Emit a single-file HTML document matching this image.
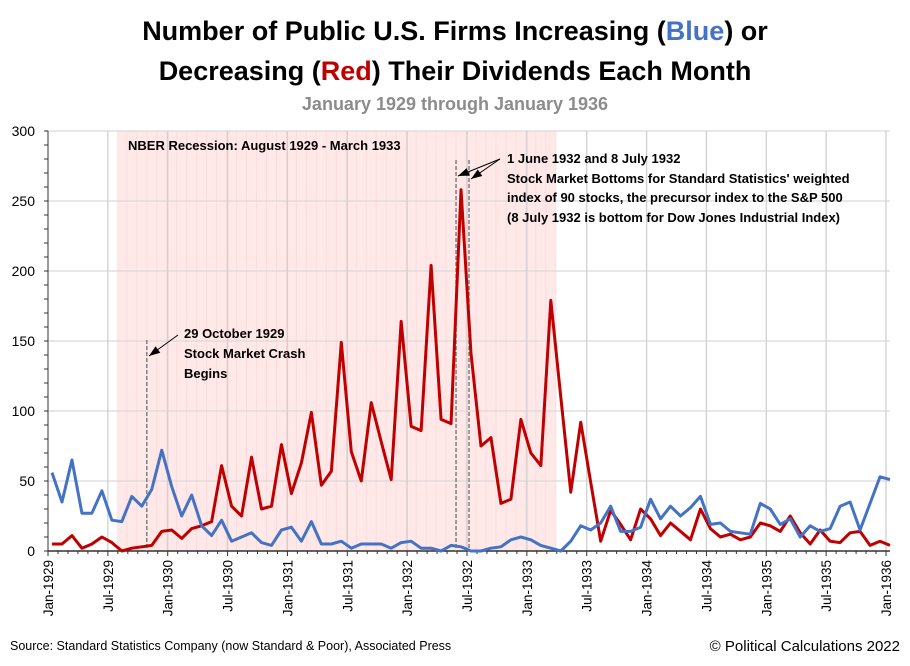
<!DOCTYPE html>
<html><head><meta charset="utf-8">
<style>
body{margin:0;background:#fff;font-family:"Liberation Sans",sans-serif;}
svg text{font-family:"Liberation Sans",sans-serif;}
</style></head>
<body>
<svg id="chart" width="910" height="661" viewBox="0 0 910 661" xmlns="http://www.w3.org/2000/svg">
<rect width="910" height="661" fill="#fff"/>
<text x="455" y="40" text-anchor="middle" font-size="27" font-weight="bold" fill="#000">Number of Public U.S. Firms Increasing (<tspan fill="#4472c4">Blue</tspan>) or</text>
<text x="455" y="80" text-anchor="middle" font-size="27" font-weight="bold" fill="#000">Decreasing (<tspan fill="#c00000">Red</tspan>) Their Dividends Each Month</text>
<text x="455" y="110" text-anchor="middle" font-size="18" font-weight="bold" fill="#8c8c8c">January 1929 through January 1936</text>
<g id="plot"></g>
<text x="10" y="650" font-size="12.5" fill="#000">Source: Standard Statistics Company (now Standard &amp; Poor), Associated Press</text>
<text x="900" y="651" text-anchor="end" font-size="15" fill="#000">© Political Calculations 2022</text>
</svg>
<script>
const months = ["Jan-1929","Jul-1929","Jan-1930","Jul-1930","Jan-1931","Jul-1931","Jan-1932","Jul-1932","Jan-1933","Jul-1933","Jan-1934","Jul-1934","Jan-1935","Jul-1935","Jan-1936"];
const yTicks = [0,50,100,150,200,250,300];
const increasing = [56,35,65,27,27,43,22,21,39,32,44,72,46,25,40,18,11,22,7,10,13,6,4,15,17,7,21,5,5,
 7,2,5,5,5,2,6,7,2,2,0,4,3,0,0,2,3,8,10,8,4,2,0,7,18,15,
 20,32,14,14,17,37,23,32,25,31,39,19,20,14,13,12,34,30,19,23,10,18,14,16,32,35,15,34,53,51];
const decreasing = [5,5,11,2,5,10,6,0,2,3,4,14,15,9,16,18,21,61,32,25,67,30,32,76,41,63,99,47,57,
 149,71,50,106,78,51,164,89,86,204,94,91,258,141,75,81,34,37,94,70,61,179,110,42,92,49,
 7,29,19,8,30,23,11,20,14,8,30,16,10,12,8,10,20,18,14,25,13,5,15,7,6,13,14,4,7,4];
const recession = [7, 51]; // month indices Aug-1929 .. Mar-1933 (end boundary)
const events = [9.5, 40.5, 41.8]; // 29 Oct 1929, 1 Jun 1932, 8 Jul 1932

const NS="http://www.w3.org/2000/svg";
const plot=document.getElementById('plot');
const X0=48, X1=886, Y0=551, Y1=131;
const step=(X1-X0)/84;
const xTick=i=>X0+i*step;
const xPt=i=>X0+4+i*step;
const y=v=>Y0-(v/300)*(Y0-Y1);
function mk(tag,attrs){const e=document.createElementNS(NS,tag);for(const k in attrs)e.setAttribute(k,attrs[k]);plot.appendChild(e);return e;}

// recession shading
let r=mk('rect',{x:xTick(recession[0])-1,y:Y1,width:xTick(recession[1])-xTick(recession[0]),height:Y0-Y1,fill:'#ffe8e8'});


for(let i=recession[0];i<recession[1];i++){
  let l=mk('line',{x1:xTick(i)+9,x2:xTick(i)+9,y1:Y1,y2:Y0,stroke:'#fcdcdc','stroke-width':1});
  
  
}
// grid
yTicks.forEach(v=>{
  let g=mk('line',{x1:X0-2,x2:X1+4,y1:y(v),y2:y(v),stroke:'#d9d9d9','stroke-width':1.3});
  
  
  let t=mk('text',{x:35,y:y(v)+5,'text-anchor':'end','font-size':14,fill:'#000'});
  t.textContent=v;
  
  
});
months.forEach((m,k)=>{
  const x=xTick(k*6);
  if(k>0){let g=mk('line',{x1:x,x2:x,y1:Y1,y2:Y0,stroke:'#d0d0d0','stroke-width':1.3});
  
  }
  let t=mk('text',{x:0,y:0,'text-anchor':'end','font-size':13.5,fill:'#000',transform:`translate(${x+5},560) rotate(-90)`});
  t.textContent=m;
  
  
});
// axes
let ax=mk('line',{x1:X0,x2:X0,y1:Y1,y2:Y0,stroke:'#333','stroke-width':1});


let bx=mk('line',{x1:X0,x2:X1+4,y1:Y0,y2:Y0,stroke:'#333','stroke-width':1.5});


for(let i=0;i<=84;i++){
  let tk=mk('line',{x1:xTick(i),x2:xTick(i),y1:Y0,y2:Y0+(i%6===0?5:3),stroke:'#333','stroke-width':1});
  
  
}
for(let v=0;v<=300;v+=10){
  let tk=mk('line',{x1:X0-4,x2:X0,y1:y(v),y2:y(v),stroke:'#333','stroke-width':1});
  
  
}
// event lines
const evTop=[340,160,160];
events.forEach((e,k)=>{
  let l=mk('line',{x1:xPt(e),x2:xPt(e),y1:evTop[k],y2:Y0,stroke:'#808080','stroke-width':1.5,'stroke-dasharray':'4,2'});
  
  
});
// series
function series(arr,color,name){
  let p=mk('polyline',{points:arr.map((v,i)=>xPt(i)+','+y(v)).join(' '),fill:'none',stroke:color,'stroke-width':3,'stroke-linejoin':'round'});
  
  
}
series(decreasing,'#c00000','decreasing-series');
series(increasing,'#4472c4','increasing-series');

// annotations
function txt(x,yy,s,name){let t=mk('text',{x:x,y:yy,'font-size':13,'font-weight':'bold',fill:'#000'});t.textContent=s;
  
  }
txt(128,150,'NBER Recession: August 1929 - March 1933','recession-label');
txt(184,338,'29 October 1929','crash-annotation');
txt(184,358,'Stock Market Crash','crash-annotation');
txt(184,378,'Begins','crash-annotation');
txt(507,163,'1 June 1932 and 8 July 1932','bottom-annotation');
txt(507,183,'Stock Market Bottoms for Standard Statistics\' weighted','bottom-annotation');
txt(507,202,'index of 90 stocks, the precursor index to the S&P 500','bottom-annotation');
txt(507,222,'(8 July 1932 is bottom for Dow Jones Industrial Index)','bottom-annotation');
function arrow(x1,y1,x2,y2,name){
  let l=mk('line',{x1:x1,y1:y1,x2:x2,y2:y2,stroke:'#000','stroke-width':1});
  
  
  const a=Math.atan2(y2-y1,x2-x1),L=11,w=4;
  const bx=x2-L*Math.cos(a),by=y2-L*Math.sin(a);
  let h=mk('polygon',{points:`${x2},${y2} ${bx-w*Math.sin(a)},${by+w*Math.cos(a)} ${bx+w*Math.sin(a)},${by-w*Math.cos(a)}`,fill:'#000'});
  
  
}
arrow(178,335,149,356,'crash-arrow');
arrow(500,159,458,176,'june-arrow');
arrow(500,159,471,179,'july-arrow');
</script>
</body></html>
